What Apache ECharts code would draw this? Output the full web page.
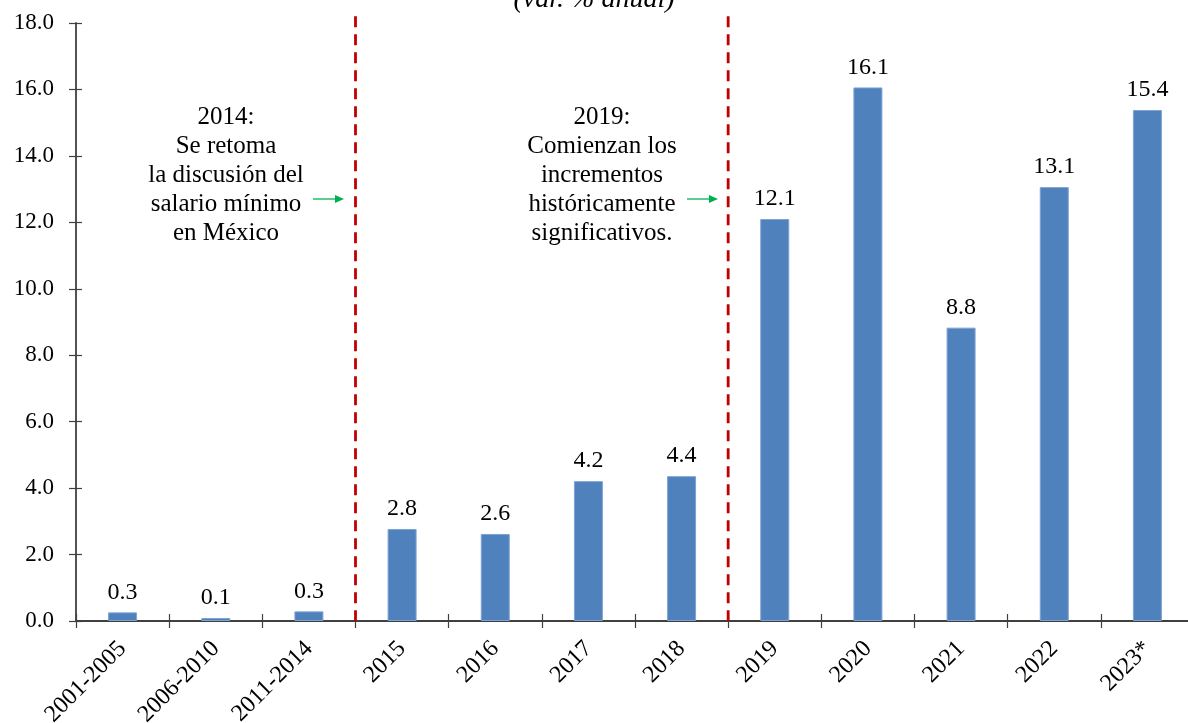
<!DOCTYPE html>
<html>
<head>
<meta charset="utf-8">
<script src="https://cdn.jsdelivr.net/npm/echarts@6/dist/echarts.min.js"></script>
<style>html,body{margin:0;padding:0;background:#fff;}#c{width:1188px;height:723px;}</style>
</head>
<body>
<div id="c"></div>
<script>
const categories = ['2001-2005','2006-2010','2011-2014','2015','2016','2017','2018','2019','2020','2021','2022','2023*'];
const values = [0.26, 0.09, 0.29, 2.77, 2.62, 4.21, 4.36, 12.1, 16.06, 8.83, 13.06, 15.38];
const yTicks = { min: 0, max: 18, interval: 2 };
const boundaries = [3, 7];
const titleText = '(var. % anual)';
const note1 = ['2014:', 'Se retoma', 'la discusión del', 'salario mínimo', 'en México'];
const note2 = ['2019:', 'Comienzan los', 'incrementos', 'históricamente', 'significativos.'];

const FONT = '"Liberation Serif", "Times New Roman", serif';
const AX = '#404040';
const chart = echarts.init(document.getElementById('c'), null, {renderer: 'canvas'});

const grid = { left: 76, top: 23, right: -6, bottom: 102, containLabel: false, outerBoundsMode: 'none' };
const option = {
  animation: false,
  backgroundColor: '#fff',
  title: {
    text: titleText, left: 'center', top: -19,
    textStyle: { fontFamily: FONT, fontStyle: 'italic', fontWeight: 'normal', fontSize: 28, color: '#000' }
  },
  grid: grid,
  xAxis: [
    {
      type: 'category', data: categories, boundaryGap: true,
      axisLine: { lineStyle: { color: AX, width: 2 } },
      axisTick: { show: true, length: 7, lineStyle: { color: AX, width: 1.2 } },
      axisLabel: { interval: 0, rotate: 45, margin: 24, fontFamily: FONT, fontSize: 24, color: '#000' },
      splitLine: { show: false }
    },
    {
      type: 'category', data: categories, boundaryGap: true, position: 'bottom',
      axisLine: { show: false },
      axisTick: { show: true, inside: true, length: 7, lineStyle: { color: AX, width: 1.2 } },
      axisLabel: { show: false }, splitLine: { show: false }
    },
    {
      type: 'value', min: 0, max: categories.length, show: false
    }
  ],
  yAxis: [
    {
      type: 'value', min: yTicks.min, max: yTicks.max, interval: yTicks.interval,
      axisLine: { show: true, lineStyle: { color: AX, width: 1.8 } },
      axisTick: { show: true, length: 7, lineStyle: { color: AX, width: 1.2 } },
      axisLabel: { margin: 22, fontFamily: FONT, fontSize: 23, color: '#000', formatter: v => v.toFixed(1) },
      splitLine: { show: false }
    },
    {
      type: 'value', min: yTicks.min, max: yTicks.max, interval: yTicks.interval, position: 'left',
      axisLine: { show: false },
      axisTick: { show: true, inside: true, length: 6, lineStyle: { color: AX, width: 1.2 } },
      axisLabel: { show: false }, splitLine: { show: false }
    }
  ],
  series: [{
    type: 'bar', data: values, barWidth: 29, xAxisIndex: 0, yAxisIndex: 0,
    itemStyle: { color: '#4F81BD', borderColor: '#7EA3D2', borderWidth: 1 },
    label: {
      show: true, position: 'top', distance: 8,
      fontFamily: FONT, fontSize: 24, color: '#000',
      formatter: p => p.value.toFixed(1)
    }
  }]
};
chart.setOption(option);

// Annotations and boundary lines
const graphics = [];
const y0 = chart.convertToPixel({ yAxisIndex: 0 }, 0);
const yTop = chart.convertToPixel({ yAxisIndex: 0 }, 18.2);
boundaries.forEach(b => {
  const x = chart.convertToPixel({ xAxisIndex: 2 }, b);
  graphics.push({
    type: 'line', z: 10,
    shape: { x1: x, y1: yTop, x2: x, y2: y0 },
    style: { stroke: '#C00000', lineWidth: 2.8, lineDash: [11, 7] }
  });
});
function addNote(lines, cx, cy0) {
  lines.forEach((t, i) => {
    graphics.push({
      type: 'text', z: 10,
      style: { text: t, x: cx, y: cy0 + i * 29, textAlign: 'center', textVerticalAlign: 'middle',
               font: '25px ' + FONT, fill: '#000' }
    });
  });
}
function addArrow(x1, x2, y) {
  graphics.push({ type: 'line', z: 10, shape: { x1: x1, y1: y, x2: x2 - 8, y2: y }, style: { stroke: '#00B050', lineWidth: 1.3 } });
  graphics.push({ type: 'polygon', z: 10, shape: { points: [[x2, y], [x2 - 9, y - 4], [x2 - 9, y + 4]] }, style: { fill: '#00B050' } });
}
addNote(note1, 226, 117);
addNote(note2, 602, 117);
addArrow(313, 344, 199);
addArrow(687, 718, 199);
chart.setOption({ graphic: graphics });
</script>
</body>
</html>
